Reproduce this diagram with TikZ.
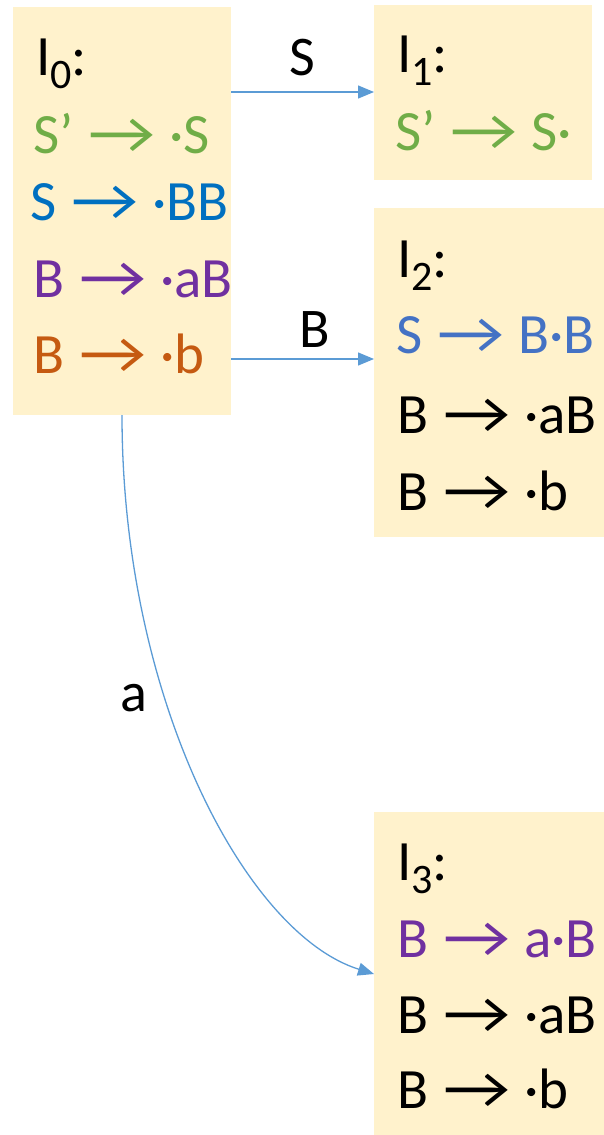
\documentclass[tikz,border=0pt]{standalone}
\usepackage{fontspec}
\usepackage{graphicx}
\setmainfont{Carlito}
\usetikzlibrary{arrows.meta}
\definecolor{boxfill}{HTML}{FFF2CC}
\definecolor{cgreen}{HTML}{70AD47}
\definecolor{cblue}{HTML}{0070C0}
\definecolor{cpurple}{HTML}{7030A0}
\definecolor{corange}{HTML}{C55A11}
\definecolor{clblue}{HTML}{4472C4}
\definecolor{clink}{HTML}{5B9BD5}
\newcommand{\subn}[1]{\raisebox{-13pt}{\fontsize{42}{42}\selectfont #1}}
\newcommand{\arr}{\hspace{2pt}\scalebox{1.3}[1.05]{→}\hspace{1pt}}
\begin{document}
\begin{tikzpicture}[x=1pt,y=-1pt,
  box/.style={fill=boxfill, draw=none, inner sep=0pt, outer sep=0pt, anchor=north west},
  txt/.style={anchor=base west, inner sep=0pt, font=\fontsize{57}{60}\selectfont},
  lbl/.style={anchor=base, inner sep=0pt, font=\fontsize{56}{60}\selectfont},
  link/.style={draw=clink, line width=1.3pt, -{Triangle[length=16pt,width=13pt]}}]
\useasboundingbox (0,0) rectangle (604,1135);
% boxes
\node[box, minimum width=218pt, minimum height=408pt] (b0) at (13,7) {};
\node[box, minimum width=218pt, minimum height=175pt] (b1) at (374,5) {};
\node[box, minimum width=230pt, minimum height=329pt] (b2) at (374,208) {};
\node[box, minimum width=230pt, minimum height=323pt] (b3) at (374,812) {};
% I0
\node[txt] (t00) at (36,75) {I\subn{0}:};
\node[txt, text=cgreen] (t01) at (33,153) {S’ \arr{} ·S};
\node[txt, text=cblue] (t02) at (30,220) {S \arr{} ·BB};
\node[txt, text=cpurple] (t03) at (33,297) {B \arr{} ·aB};
\node[txt, text=corange] (t04) at (33,373) {B \arr{} ·b};
% I1
\node[txt] (t10) at (397,72) {I\subn{1}:};
\node[txt, text=cgreen] (t11) at (395,150) {S’ \arr{} S·};
% I2
\node[txt] (t20) at (397,277) {I\subn{2}:};
\node[txt, text=clblue] (t21) at (396,353) {S \arr{} B·B};
\node[txt] (t22) at (397,433) {B \arr{} ·aB};
\node[txt] (t23) at (397,510) {B \arr{} ·b};
% I3
\node[txt] (t30) at (397,880) {I\subn{3}:};
\node[txt, text=cpurple] (t31) at (397,957) {B \arr{} a·B};
\node[txt] (t32) at (397,1033) {B \arr{} ·aB};
\node[txt] (t33) at (397,1108) {B \arr{} ·b};
% connectors
\draw[link] ([yshift=-85pt]b0.north east) -- ([yshift=-87pt]b1.north west);
\draw[link] ([yshift=-352pt]b0.north east) -- ([yshift=-151pt]b2.north west);
\draw[link] (b0.south) .. controls +(0,285) and +(-128,-40) .. ([yshift=-162pt]b3.north west);
% labels
\node[lbl] (lS) at (302,75) {S};
\node[lbl] (lB) at (315,347) {B};
\node[lbl] (la) at (134,711) {a};
\end{tikzpicture}
\end{document}
